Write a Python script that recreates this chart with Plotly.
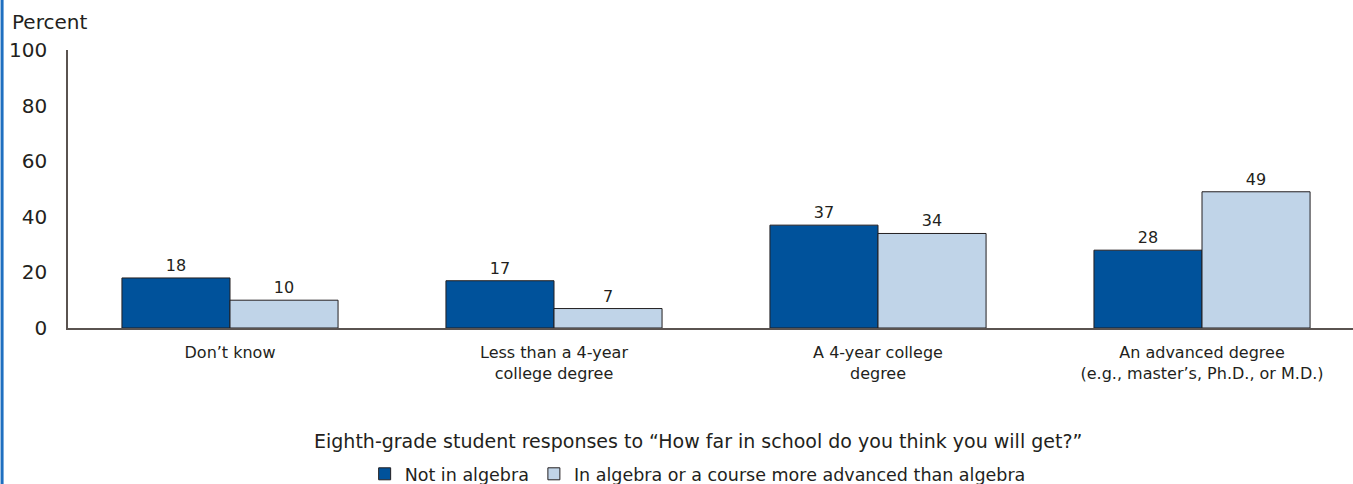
import plotly.graph_objects as go

categories = ["Don’t know", "Less than a 4-year<br>college degree", "A 4-year college<br>degree",
              "An advanced degree<br>(e.g., master’s, Ph.D., or M.D.)"]
not_algebra = [18, 17, 37, 28]
in_algebra = [10, 7, 34, 49]
series_names = ["Not in algebra", "In algebra or a course more advanced than algebra"]
y_ticks = [0, 20, 40, 60, 80, 100]

FONT = "DejaVu Sans"
TXT = "#231f20"
xs = list(range(len(categories)))

fig = go.Figure()
fig.add_trace(go.Bar(x=xs, y=not_algebra, name=series_names[0], marker=dict(color="#00529b", line=dict(color="#231f20", width=1)),
                     text=not_algebra, textposition="outside", textfont=dict(size=16, color=TXT, family=FONT), cliponaxis=False))
fig.add_trace(go.Bar(x=xs, y=in_algebra, name=series_names[1], marker=dict(color="#c0d4e8", line=dict(color="#231f20", width=1)),
                     text=in_algebra, textposition="outside", textfont=dict(size=16, color=TXT, family=FONT), cliponaxis=False))

fig.update_layout(
    width=1353, height=484, autosize=False,
    margin=dict(l=68, r=0, t=50, b=156, autoexpand=False),
    paper_bgcolor="white", plot_bgcolor="white",
    barmode="group", bargap=0.333, bargroupgap=0,
    font=dict(family=FONT, size=17, color=TXT),
    showlegend=True,
    legend=dict(orientation="h", xref="paper", x=0.49, xanchor="center", yref="container", y=0.058, yanchor="top",
                font=dict(size=17.5, color=TXT), itemwidth=30, tracegroupgap=0),
    xaxis=dict(range=[-0.5, 3.466], tickvals=xs, ticktext=categories, showline=True, automargin=False,
               linecolor="#5a5350", linewidth=1.5, showgrid=False, zeroline=False, ticks="",
               tickfont=dict(size=16, color=TXT), ticklabelstandoff=9),
    yaxis=dict(range=[0, 100], tickvals=y_ticks, showline=True, linecolor="#5a5350", linewidth=1.5, automargin=False,
               showgrid=False, zeroline=False, ticks="", tickfont=dict(size=20, color=TXT),
               ticklabelstandoff=15),
    annotations=[
        dict(text="Percent", xref="paper", yref="paper", x=-0.045, y=1.1, xanchor="left", yanchor="middle",
             showarrow=False, font=dict(size=20, color=TXT)),
        dict(text="Eighth-grade student responses to “How far in school do you think you will get?”",
             xref="paper", yref="paper", x=0.49, y=-0.406, xanchor="center", yanchor="middle",
             showarrow=False, font=dict(size=19, color=TXT)),
    ],
    shapes=[dict(type="line", xref="paper", yref="paper", x0=-0.0513, x1=-0.0513, y0=-0.6, y1=1.2,
                 line=dict(color="#1f6fc0", width=3))],
)

fig.write_html("out.html", config={"displayModeBar": False},
               post_script="document.body.style.margin='0';document.body.style.overflow='hidden';")
